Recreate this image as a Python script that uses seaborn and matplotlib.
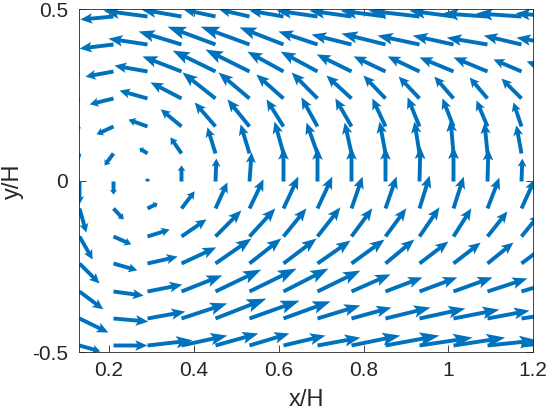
import numpy as np
import matplotlib
matplotlib.use("Agg")
import matplotlib.pyplot as plt
import seaborn as sns

# grid of arrow tails (x/H, y/H); last column sits just outside the x range
x_cols = [0.13, 0.21, 0.29, 0.37, 0.45, 0.53, 0.61, 0.69, 0.77, 0.85, 0.93, 1.01, 1.09, 1.17, 1.25]
y_rows = [0.48, 0.40, 0.32, 0.24, 0.16, 0.08, 0.0, -0.08, -0.16, -0.24, -0.32, -0.40, -0.48]

# arrow components, in hundredths of H (rows top -> bottom)
u = [
    [-7.1, -7.8, -10.4, -9.4, -7.5, -7.1, -8.0, -9.6, -9.9, -10.6, -12.0, -10.4, -10.6, -10.6, -9.4],
    [-7.1, -8.0, -9.2, -10.1, -11.3, -11.5, -10.4, -9.2, -9.4, -10.4, -9.9, -9.6, -9.6, -8.9, -9.2],
    [-5.9, -6.6, -7.8, -9.2, -10.1, -10.4, -8.5, -8.7, -8.2, -7.5, -7.5, -8.0, -8.0, -6.6, -6.8],
    [-4.7, -5.6, -6.6, -7.3, -7.8, -7.3, -6.4, -6.1, -5.9, -5.2, -4.9, -4.5, -4.2, -4.7, -4.0],
    [-2.8, -4.0, -4.5, -4.9, -4.9, -5.2, -4.0, -3.8, -3.8, -3.1, -2.8, -2.6, -2.6, -1.9, -1.4],
    [-1.4, -2.1, -1.9, -2.6, -1.9, -2.1, -2.1, -2.6, -1.6, -1.4, -1.2, -0.7, -0.7, -1.2, -0.7],
    [0.0, 0.0, 0.0, 0.0, 0.2, 0.5, 0.0, 0.0, 0.0, 0.0, 0.2, 0.0, 0.2, 0.2, 0.5],
    [1.6, 2.4, 2.4, 3.1, 2.8, 3.3, 3.5, 3.5, 2.6, 2.6, 2.4, 2.4, 2.8, 3.1, 3.1],
    [3.1, 4.2, 5.2, 5.9, 6.1, 6.1, 5.4, 5.4, 4.9, 4.9, 4.7, 4.2, 4.7, 4.2, 4.0],
    [4.7, 5.6, 7.1, 8.2, 8.5, 7.5, 7.8, 7.8, 7.8, 6.8, 6.8, 6.4, 6.1, 5.9, 5.4],
    [5.6, 7.1, 8.2, 9.6, 10.8, 11.1, 10.6, 10.1, 9.2, 8.7, 8.9, 9.2, 9.4, 9.4, 8.9],
    [6.8, 8.2, 8.9, 10.8, 12.0, 11.8, 11.1, 10.1, 9.4, 10.6, 10.8, 10.8, 9.9, 9.4, 9.4],
    [4.9, 8.0, 10.6, 10.8, 10.1, 9.4, 9.9, 10.1, 11.5, 12.7, 12.5, 12.2, 11.8, 10.6, 10.4],
]
v = [
    [-0.9, -0.9, 1.7, 2.0, 2.0, 2.0, 1.7, 1.7, 1.7, 1.7, 1.7, 1.7, 0.9, 0.9, 0.9],
    [-1.5, -1.2, 1.7, 3.8, 5.2, 5.2, 5.0, 3.8, 2.9, 3.2, 2.6, 2.6, 2.0, 2.6, 2.0],
    [-2.3, -1.5, 1.7, 4.4, 6.1, 6.4, 5.8, 5.8, 5.0, 4.4, 4.4, 4.1, 4.1, 3.5, 2.9],
    [-2.9, -1.7, 2.3, 4.7, 7.6, 7.6, 7.0, 7.6, 6.7, 6.7, 6.4, 6.4, 6.1, 5.8, 5.2],
    [-3.5, -2.3, 2.0, 5.0, 7.0, 7.9, 7.9, 8.5, 8.2, 8.2, 8.5, 8.2, 7.6, 7.0, 6.4],
    [-5.8, -3.5, 1.5, 4.7, 7.6, 8.5, 9.3, 9.0, 9.0, 9.3, 9.3, 9.9, 9.0, 8.2, 7.6],
    [-6.7, -3.8, 0.9, 4.7, 6.7, 8.5, 9.9, 9.9, 9.9, 9.9, 10.2, 10.2, 9.6, 6.7, 6.4],
    [-7.0, -3.2, 1.5, 5.0, 7.6, 8.5, 9.3, 9.3, 9.3, 9.3, 9.6, 9.3, 9.0, 8.5, 7.9],
    [-6.7, -2.3, 2.0, 5.0, 7.6, 8.2, 8.2, 8.5, 8.2, 8.2, 8.5, 8.2, 7.3, 6.4, 5.8],
    [-5.8, -2.0, 2.0, 4.7, 7.3, 7.3, 7.3, 6.7, 7.0, 7.0, 6.4, 6.1, 6.1, 5.5, 5.0],
    [-5.2, -1.2, 2.0, 4.7, 6.4, 6.7, 6.7, 6.1, 5.0, 4.1, 4.1, 4.1, 3.8, 3.5, 3.2],
    [-4.1, -0.9, 2.0, 4.4, 5.8, 5.2, 5.0, 3.8, 3.2, 3.2, 2.9, 2.6, 2.3, 1.7, 1.7],
    [-1.7, 0.0, 1.5, 2.9, 3.5, 3.5, 2.9, 2.3, 2.9, 2.9, 2.3, 2.3, 1.5, 1.2, 1.2],
]

xticks = [0.2, 0.4, 0.6, 0.8, 1.0, 1.2]
xticklabels = ['0.2', '0.4', '0.6', '0.8', '1', '1.2']
yticks = [-0.5, 0, 0.5]
yticklabels = ['-0.5', '0', '0.5']

sns.set_style("ticks")
plt.rcParams['font.family'] = ['Liberation Sans', 'DejaVu Sans']
dark = '#262626'
blue = '#0072BD'

fig = plt.figure(figsize=(5.49, 4.13), dpi=100)
ax = fig.add_axes([0.1444, 0.147, 0.8270, 0.8305])
ax.set_xlim(0.13, 1.2)
ax.set_ylim(-0.5, 0.5)

# pixel size of the axes, used to give each arrow a head proportional to its length
ax_w = fig.get_figwidth() * fig.dpi * 0.8270
ax_h = fig.get_figheight() * fig.dpi * 0.8305
sx = ax_w / 1.07
sy = ax_h / 1.0
w_px = 3.9

for i, yy in enumerate(y_rows):
    for j, xx in enumerate(x_cols):
        uu, vv = u[i][j], v[i][j]
        L = np.hypot(uu / 100 * sx, vv / 100 * sy)
        hl = max(0.36 * L, 1.5)
        hw = 0.4 * hl + 5.8
        ax.quiver([xx], [yy], [uu], [vv], color=blue,
                  angles='xy', scale_units='xy', scale=100,
                  width=w_px / ax_w, headlength=hl / w_px,
                  headaxislength=0.85 * hl / w_px, headwidth=hw / w_px,
                  minshaft=0.1, minlength=0.3)

ax.set_xticks(xticks)
ax.set_xticklabels(xticklabels)
ax.set_yticks(yticks)
ax.set_yticklabels(yticklabels)
ax.tick_params(direction='in', length=5, width=0.6, colors=dark, labelsize=15,
               top=True, right=True)
ax.tick_params(axis='x', pad=6)
ax.tick_params(axis='y', pad=8)
for s in ax.spines.values():
    s.set_color(dark)
    s.set_linewidth(0.6)
    s.set_visible(True)
ax.set_xlabel('x/H', fontsize=17, color=dark)
ax.set_ylabel('y/H', fontsize=17, color=dark)
ax.xaxis.set_label_coords(0.5, -0.106)
ax.yaxis.set_label_coords(-0.121, 0.5)

fig.savefig('out.png', dpi=100)
